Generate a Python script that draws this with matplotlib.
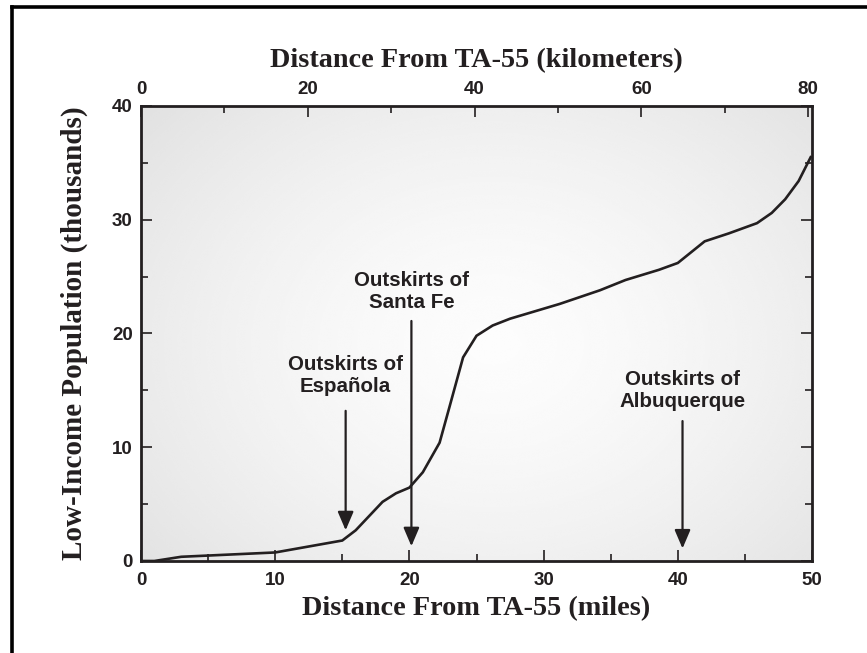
"""Low-income population vs. distance from TA-55, with dual mile/km axes."""
import matplotlib.pyplot as plt
from matplotlib.lines import Line2D
import numpy as np

INK = "#231f20"

# cumulative low-income population (thousands) by distance (miles)
miles = [0.0, 1.0, 3.0, 10.0, 15.0, 16.0, 18.0, 19.0, 20.0, 21.0, 22.25, 23.0,
         24.0, 25.0, 26.2, 27.5, 31.2, 34.2, 36.1, 38.6, 40.0, 42.0, 43.8,
         45.9, 47.0, 48.0, 49.0, 49.9]
population = [0.0, 0.0, 0.37, 0.75, 1.8, 2.7, 5.2, 5.95, 6.45, 7.8, 10.4, 13.6,
              17.9, 19.8, 20.7, 21.3, 22.6, 23.8, 24.7, 25.6, 26.2, 28.1, 28.8,
              29.7, 30.6, 31.8, 33.4, 35.5]

# town callouts: label, arrow x (miles), arrow top / tip (thousands), text y
places = ["Outskirts of\nEspañola", "Outskirts of\nSanta Fe",
          "Outskirts of\nAlbuquerque"]
place_x = [15.25, 20.15, 40.35]
arrow_top = [13.2, 21.1, 12.3]
arrow_tip = [2.7, 1.3, 1.1]
label_y = [16.3, 23.7, 15.0]

MI_TO_KM = 1.609344

fig = plt.figure(figsize=(8.67, 6.53), dpi=100)
ax = fig.add_axes([0.1626, 0.1409, 0.7740, 0.6968])

# soft radial shading behind the data
gx, gy = np.meshgrid(np.linspace(-1, 1, 400), np.linspace(-1, 1, 300))
r = np.sqrt(((gx - 0.05) / 1.05) ** 2 + ((gy + 0.05) / 1.2) ** 2)
shade = 0.99 - 0.07 * np.clip(r, 0, 1.3) ** 1.5
ax.imshow(shade, extent=[0, 50, 0, 40], origin="lower", cmap="gray",
          vmin=0, vmax=1, aspect="auto", interpolation="bicubic", zorder=0)

ax.plot(miles, population, color=INK, lw=1.9, zorder=3,
        solid_joinstyle="miter")

for text, x, top, tip, ty in zip(places, place_x, arrow_top, arrow_tip, label_y):
    ax.annotate("", xy=(x, tip), xytext=(x, top),
                arrowprops=dict(arrowstyle="-|>,head_length=0.75,head_width=0.32",
                                mutation_scale=15, color=INK, lw=1.6,
                                shrinkA=0, shrinkB=0), zorder=4)
    ax.text(x, ty, text, ha="center", va="center", fontsize=14.8,
            fontweight="bold", family="Liberation Sans", color=INK,
            linespacing=1.2, zorder=4)

ax.set_xlim(0, 50)
ax.set_ylim(0, 40)
ax.set_xticks(np.arange(0, 51, 10))
ax.set_xticks(np.arange(5, 50, 10), minor=True)
ax.set_yticks(np.arange(0, 41, 10))
ax.set_yticks(np.arange(5, 40, 10), minor=True)

for s in ax.spines.values():
    s.set_color(INK)
    s.set_linewidth(2.0)

ax.tick_params(which="both", direction="in", color=INK, width=1.2,
               top=False, right=True, labelcolor=INK)
ax.tick_params(which="major", length=8, labelsize=13.5, pad=8)
ax.tick_params(which="minor", length=5)
ax.tick_params(axis="y", which="major", pad=6)
for lab in ax.get_xticklabels() + ax.get_yticklabels():
    lab.set_fontweight("bold")
    lab.set_family("Liberation Sans")

top = ax.secondary_xaxis("top", functions=(lambda m: m * MI_TO_KM,
                                           lambda k: k / MI_TO_KM))
top.set_xticks(np.arange(0, 81, 20))
top.set_xticks(np.arange(10, 80, 20), minor=True)
top.spines["top"].set_visible(False)
top.tick_params(which="both", direction="in", color=INK, width=1.2,
                labelcolor=INK)
top.tick_params(which="major", length=8, labelsize=13.5, pad=6)
top.tick_params(which="minor", length=5)
for lab in top.get_xticklabels():
    lab.set_fontweight("bold")
    lab.set_family("Liberation Sans")

serif = dict(fontweight="bold", family="Liberation Serif", color=INK)
ax.set_xlabel("Distance From TA-55 (miles)", labelpad=5, fontsize=20.3,
              **serif)
ax.set_ylabel("Low-Income Population (thousands)", labelpad=17, fontsize=21,
              **serif)
top.set_xlabel("Distance From TA-55 (kilometers)", labelpad=10, fontsize=20.3,
               **serif)

# page frame along the top and left edges
fig.add_artist(Line2D([12 / 867, 1.0], [1 - 7 / 653, 1 - 7 / 653],
                      transform=fig.transFigure, color="black", lw=2.6))
fig.add_artist(Line2D([12 / 867, 12 / 867], [0.0, 1 - 7 / 653],
                      transform=fig.transFigure, color="black", lw=2.6,
                      solid_capstyle="projecting"))

fig.savefig("out.png", dpi=100)
